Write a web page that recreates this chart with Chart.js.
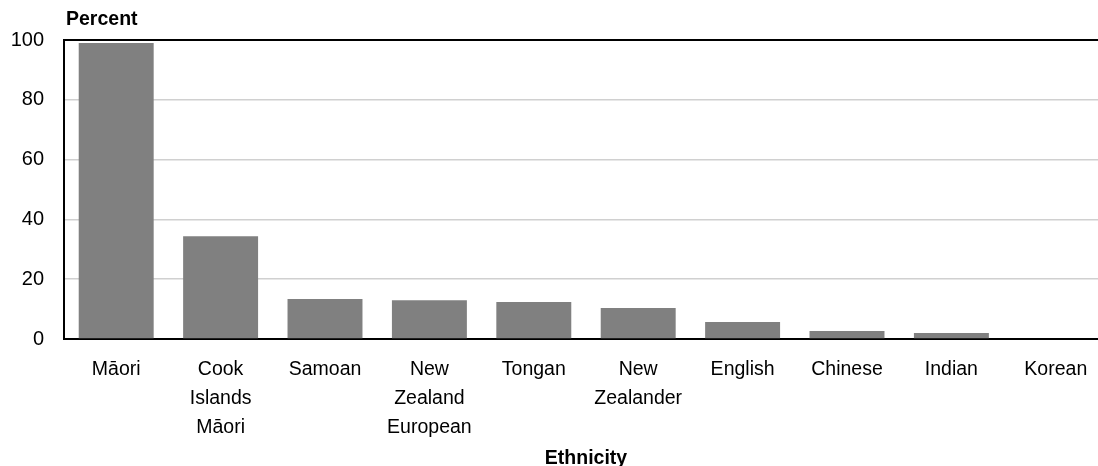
<html>
<head>
<meta charset="utf-8">
<style>
  body { margin: 0; background: #fff; }
  #wrap { width: 1098px; height: 466px; overflow: hidden; }
</style>
</head>
<body>
<div id="wrap"><canvas id="chart" width="1108" height="470"></canvas></div>
<script src="https://cdn.jsdelivr.net/npm/chart.js@4"></script>
<script>
// Categories (multi-line labels as shown under the axis)
var categories = [
  ['Māori'],
  ['Cook', 'Islands', 'Māori'],
  ['Samoan'],
  ['New', 'Zealand', 'European'],
  ['Tongan'],
  ['New', 'Zealander'],
  ['English'],
  ['Chinese'],
  ['Indian'],
  ['Korean']
];
// Percent values
var percent = [99.0, 34.4, 13.4, 13.0, 12.4, 10.4, 5.7, 2.7, 2.0, 0];
var yTicks = [0, 20, 40, 60, 80, 100];

var FONT = '"Liberation Sans", Arial, sans-serif';

// "Percent" heading above the y axis
var yHeading = {
  id: 'yHeading',
  afterDraw: function (chart) {
    var c = chart.ctx;
    c.save();
    c.font = 'bold 19.5px ' + FONT;
    c.fillStyle = '#000';
    c.textAlign = 'left';
    c.textBaseline = 'middle';
    c.fillText('Percent', 66, 20);
    c.restore();
  }
};

var ctx = document.getElementById('chart').getContext('2d');
var chart = new Chart(ctx, {
  type: 'bar',
  data: {
    labels: categories,
    datasets: [{
      data: percent,
      backgroundColor: '#808080',
      borderWidth: 0,
      categoryPercentage: 1,
      barPercentage: 0.718
    }]
  },
  options: {
    responsive: false,
    animation: false,
    layout: { padding: { top: 40, right: 0, left: 0, bottom: 0 } },
    plugins: {
      legend: { display: false },
      tooltip: { enabled: false }
    },
    scales: {
      x: {
        grid: { display: false, drawTicks: false },
        border: { display: true, color: '#000', width: 2 },
        ticks: {
          color: '#000',
          font: { family: FONT, size: 19.5, lineHeight: 1.487 },
          padding: 16,
          maxRotation: 0,
          autoSkip: false
        },
        title: {
          display: true,
          text: 'Ethnicity',
          color: '#000',
          font: { family: FONT, size: 19.5, weight: 'bold' },
          padding: { top: 0, bottom: 0 }
        },
        afterFit: function (s) { s.height = 131; }
      },
      y: {
        min: 0,
        max: 100,
        afterBuildTicks: function (s) {
          s.ticks = yTicks.map(function (v) { return { value: v }; });
        },
        grid: {
          drawTicks: false,
          color: function (c) {
            if (c.tick && c.tick.value === 100) return '#000';
            if (c.tick && c.tick.value === 0) return 'rgba(0,0,0,0)';
            return '#d0d0d0';
          },
          lineWidth: function (c) {
            return (c.tick && c.tick.value === 100) ? 2 : 1.5;
          }
        },
        border: { display: true, color: '#000', width: 2 },
        ticks: {
          color: '#000',
          font: { family: FONT, size: 20 },
          padding: 20
        },
        afterFit: function (s) { s.width = 64; }
      }
    }
  },
  plugins: [yHeading]
});
</script>
</body>
</html>
